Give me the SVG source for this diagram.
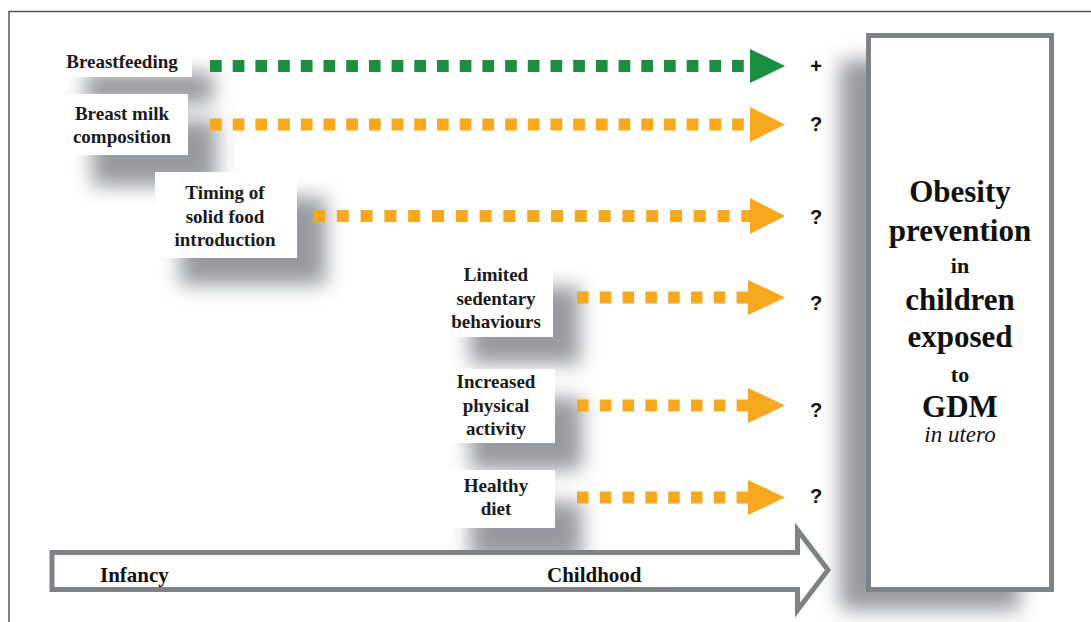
<svg xmlns="http://www.w3.org/2000/svg" width="1091" height="622" viewBox="0 0 1091 622">
<defs>
<style>
.lbl{font-weight:bold;font-size:19px;fill:#1a1a1a;text-anchor:middle}
.big{font-weight:bold;font-size:31px;fill:#111;text-anchor:middle}
.mid{font-weight:bold;font-size:22px;fill:#111;text-anchor:middle}
.ital{font-style:italic;font-size:23px;fill:#111;text-anchor:middle}
.sym{font-weight:bold;font-size:20px;fill:#111;text-anchor:middle}
.time{font-weight:bold;font-size:21px;fill:#111}
.shadow{fill:#969a9e;filter:url(#blur)}
.box{fill:#ffffff}
.g{stroke:#1b8e3f;stroke-width:12;fill:none}
.o{stroke:#f6a81f;stroke-width:12;fill:none}
.gh{fill:#1b8e3f}
.oh{fill:#f6a81f}
</style>
<filter id="blur" x="-50%" y="-50%" width="200%" height="200%"><feGaussianBlur stdDeviation="10"/></filter>
</defs>
<rect width="1091" height="622" fill="#ffffff"/>
<path d="M9,622 V11.5 H1091" fill="none" stroke="#555" stroke-width="1.5"/>

<g id="shadows">
<rect class="shadow" x="85" y="72" width="128" height="32"/>
<rect class="shadow" x="92" y="120" width="125" height="66"/>
<rect class="shadow" x="180" y="197" width="146" height="88"/>
<rect class="shadow" x="470" y="287" width="110" height="77"/>
<rect class="shadow" x="470" y="398" width="112" height="72"/>
<rect class="shadow" x="470" y="502" width="112" height="58"/>
<rect class="shadow" x="840" y="60" width="180" height="550"/>
</g>

<g font-family="Liberation Serif, Times New Roman, serif">
<g id="timeline">
<path d="M52,552.5 H797.5 V530 L828,570 L797.5,610 V589.5 H52 Z" fill="#ffffff" stroke="#7d8285" stroke-width="5" stroke-linejoin="miter"/>
<text class="time" x="100" y="582">Infancy</text>
<text class="time" x="547" y="582">Childhood</text>
</g>

<g id="node-breastfeeding">
<rect class="box" x="62" y="50" width="130" height="27"/>
<text class="lbl" x="122" y="68">Breastfeeding</text>
</g>
<g id="node-breastmilk">
<rect class="box" x="65" y="94" width="123" height="61"/>
<text class="lbl" x="122" y="120">Breast milk</text>
<text class="lbl" x="122" y="143">composition</text>
</g>
<g id="node-timing">
<rect class="box" x="155" y="172" width="142" height="86"/>
<text class="lbl" x="225" y="199">Timing of</text>
<text class="lbl" x="225" y="223">solid food</text>
<text class="lbl" x="225" y="246">introduction</text>
</g>
<g id="node-sedentary">
<rect class="box" x="445" y="262" width="108" height="75"/>
<text class="lbl" x="496" y="281">Limited</text>
<text class="lbl" x="496" y="305">sedentary</text>
<text class="lbl" x="496" y="328">behaviours</text>
</g>
<g id="node-activity">
<rect class="box" x="445" y="369" width="110" height="74"/>
<text class="lbl" x="496" y="388">Increased</text>
<text class="lbl" x="496" y="412">physical</text>
<text class="lbl" x="496" y="435">activity</text>
</g>
<g id="node-diet">
<rect class="box" x="445" y="470" width="110" height="58"/>
<text class="lbl" x="496" y="492">Healthy</text>
<text class="lbl" x="496" y="515">diet</text>
</g>

<g id="node-outcome">
<rect x="868.5" y="35.5" width="183" height="554" fill="#ffffff" stroke="#7d8285" stroke-width="5"/>
<text class="big" x="960" y="202">Obesity</text>
<text class="big" x="960" y="241">prevention</text>
<text class="mid" x="960" y="273">in</text>
<text class="big" x="960" y="310">children</text>
<text class="big" x="960" y="347">exposed</text>
<text class="mid" x="960" y="382">to</text>
<text class="big" x="960" y="417">GDM</text>
<text class="ital" x="960" y="442">in utero</text>
</g>
</g>

<g id="connectors">
<line class="g" x1="210" y1="66" x2="752" y2="66" stroke-dasharray="11.7 11"/>
<polygon class="gh" points="750,49 785,66 750,83"/>
<line class="o" x1="210" y1="124.5" x2="752" y2="124.5" stroke-dasharray="11.7 11"/>
<polygon class="oh" points="750,107 785,124.5 750,142"/>
<line class="o" x1="313" y1="216" x2="752" y2="216" stroke-dasharray="12 11.8"/>
<polygon class="oh" points="750,198 785,216 750,234"/>
<line class="o" x1="577" y1="297.5" x2="750" y2="297.5" stroke-dasharray="11.5 11.3"/>
<polygon class="oh" points="748,280 785,297.5 748,315"/>
<line class="o" x1="577" y1="405.5" x2="750" y2="405.5" stroke-dasharray="11.5 11.3"/>
<polygon class="oh" points="748,388 785,405.5 748,423"/>
<line class="o" x1="577" y1="497.5" x2="750" y2="497.5" stroke-dasharray="11.5 11.3"/>
<polygon class="oh" points="748,480 785,497.5 748,515"/>
</g>

<g id="effects" font-family="Liberation Sans, Arial, sans-serif">
<text class="sym" x="816" y="73">+</text>
<text class="sym" x="816" y="131">?</text>
<text class="sym" x="816" y="224">?</text>
<text class="sym" x="816" y="310">?</text>
<text class="sym" x="816" y="417">?</text>
<text class="sym" x="816" y="503">?</text>
</g>
</svg>
